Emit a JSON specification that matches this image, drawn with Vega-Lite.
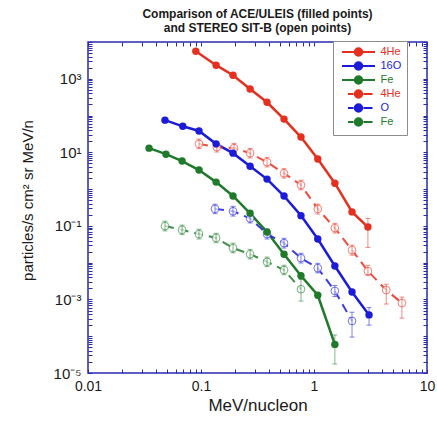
{
  "$schema": "https://vega.github.io/schema/vega-lite/v6.json",
  "width": 339,
  "height": 331,
  "autosize": "none",
  "padding": {"left": 88, "top": 42, "right": 10, "bottom": 49},
  "config": {
    "font": "Liberation Sans",
    "view": {"stroke": "#2b2bb0", "strokeWidth": 1.5},
    "axis": {"grid": false, "domain": false}
  },
  "title": {
    "text": ["Comparison of ACE/ULEIS (filled points)", "and STEREO SIT-B (open points)"],
    "fontSize": 12, "font": "Liberation Sans", "fontWeight": "bold", "color": "#1a1a1a",
    "offset": 0, "lineHeight": 14, "anchor": "middle"
  },
  "datasets": {
    "pts": [
      {"s": "ACE 4He", "g": "ACE", "x": 0.09, "y": 5600},
      {"s": "ACE 4He", "g": "ACE", "x": 0.136, "y": 2340},
      {"s": "ACE 4He", "g": "ACE", "x": 0.192, "y": 1250},
      {"s": "ACE 4He", "g": "ACE", "x": 0.272, "y": 525},
      {"s": "ACE 4He", "g": "ACE", "x": 0.384, "y": 230},
      {"s": "ACE 4He", "g": "ACE", "x": 0.543, "y": 80},
      {"s": "ACE 4He", "g": "ACE", "x": 0.767, "y": 26},
      {"s": "ACE 4He", "g": "ACE", "x": 1.08, "y": 6.6},
      {"s": "ACE 4He", "g": "ACE", "x": 1.53, "y": 1.45},
      {"s": "ACE 4He", "g": "ACE", "x": 2.17, "y": 0.24},
      {"s": "ACE 4He", "g": "ACE", "x": 3.0, "y": 0.093, "lo": 0.026, "hi": 0.16},
      {"s": "ACE 16O", "g": "ACE", "x": 0.048, "y": 75},
      {"s": "ACE 16O", "g": "ACE", "x": 0.069, "y": 51},
      {"s": "ACE 16O", "g": "ACE", "x": 0.096, "y": 38},
      {"s": "ACE 16O", "g": "ACE", "x": 0.136, "y": 17},
      {"s": "ACE 16O", "g": "ACE", "x": 0.192, "y": 9.5},
      {"s": "ACE 16O", "g": "ACE", "x": 0.272, "y": 4.2},
      {"s": "ACE 16O", "g": "ACE", "x": 0.384, "y": 1.87},
      {"s": "ACE 16O", "g": "ACE", "x": 0.543, "y": 0.65},
      {"s": "ACE 16O", "g": "ACE", "x": 0.767, "y": 0.19},
      {"s": "ACE 16O", "g": "ACE", "x": 1.08, "y": 0.044},
      {"s": "ACE 16O", "g": "ACE", "x": 1.53, "y": 0.0081},
      {"s": "ACE 16O", "g": "ACE", "x": 2.17, "y": 0.0016},
      {"s": "ACE 16O", "g": "ACE", "x": 3.07, "y": 0.00038, "lo": 0.0002, "hi": 0.0006},
      {"s": "ACE Fe", "g": "ACE", "x": 0.0347, "y": 13},
      {"s": "ACE Fe", "g": "ACE", "x": 0.049, "y": 8.9},
      {"s": "ACE Fe", "g": "ACE", "x": 0.068, "y": 5.8},
      {"s": "ACE Fe", "g": "ACE", "x": 0.096, "y": 3.3},
      {"s": "ACE Fe", "g": "ACE", "x": 0.136, "y": 1.55},
      {"s": "ACE Fe", "g": "ACE", "x": 0.192, "y": 0.65},
      {"s": "ACE Fe", "g": "ACE", "x": 0.272, "y": 0.22},
      {"s": "ACE Fe", "g": "ACE", "x": 0.384, "y": 0.068},
      {"s": "ACE Fe", "g": "ACE", "x": 0.543, "y": 0.017},
      {"s": "ACE Fe", "g": "ACE", "x": 0.767, "y": 0.0044},
      {"s": "ACE Fe", "g": "ACE", "x": 1.08, "y": 0.0013},
      {"s": "ACE Fe", "g": "ACE", "x": 1.53, "y": 0.00006, "lo": 0.0000176, "hi": 0.000108},
      {"s": "SIT 4He", "g": "SIT", "x": 0.096, "y": 17, "lo": 12.6, "hi": 23},
      {"s": "SIT 4He", "g": "SIT", "x": 0.138, "y": 13.8, "lo": 10.2, "hi": 18.6},
      {"s": "SIT 4He", "g": "SIT", "x": 0.196, "y": 13, "lo": 9.6, "hi": 17.5},
      {"s": "SIT 4He", "g": "SIT", "x": 0.272, "y": 9.5, "lo": 7.0, "hi": 12.8},
      {"s": "SIT 4He", "g": "SIT", "x": 0.384, "y": 5.4, "lo": 4.0, "hi": 7.3},
      {"s": "SIT 4He", "g": "SIT", "x": 0.543, "y": 2.7, "lo": 2.0, "hi": 3.6},
      {"s": "SIT 4He", "g": "SIT", "x": 0.767, "y": 1.29, "lo": 0.96, "hi": 1.74},
      {"s": "SIT 4He", "g": "SIT", "x": 1.08, "y": 0.29, "lo": 0.21, "hi": 0.39},
      {"s": "SIT 4He", "g": "SIT", "x": 1.53, "y": 0.087, "lo": 0.064, "hi": 0.117},
      {"s": "SIT 4He", "g": "SIT", "x": 2.17, "y": 0.022, "lo": 0.016, "hi": 0.03},
      {"s": "SIT 4He", "g": "SIT", "x": 3.0, "y": 0.0059, "lo": 0.0045, "hi": 0.0085},
      {"s": "SIT 4He", "g": "SIT", "x": 4.36, "y": 0.0018, "lo": 0.00075, "hi": 0.0026},
      {"s": "SIT 4He", "g": "SIT", "x": 6.0, "y": 0.0008, "lo": 0.00031, "hi": 0.00116},
      {"s": "SIT O", "g": "SIT", "x": 0.133, "y": 0.29, "lo": 0.215, "hi": 0.39},
      {"s": "SIT O", "g": "SIT", "x": 0.192, "y": 0.25, "lo": 0.185, "hi": 0.34},
      {"s": "SIT O", "g": "SIT", "x": 0.272, "y": 0.16, "lo": 0.12, "hi": 0.22},
      {"s": "SIT O", "g": "SIT", "x": 0.384, "y": 0.06, "lo": 0.044, "hi": 0.081},
      {"s": "SIT O", "g": "SIT", "x": 0.543, "y": 0.034, "lo": 0.025, "hi": 0.046},
      {"s": "SIT O", "g": "SIT", "x": 0.767, "y": 0.0133, "lo": 0.0098, "hi": 0.018},
      {"s": "SIT O", "g": "SIT", "x": 1.08, "y": 0.0071, "lo": 0.0053, "hi": 0.0096},
      {"s": "SIT O", "g": "SIT", "x": 1.53, "y": 0.0017, "lo": 0.0012, "hi": 0.0024},
      {"s": "SIT O", "g": "SIT", "x": 2.17, "y": 0.00026, "lo": 0.000095, "hi": 0.00045},
      {"s": "SIT Fe", "g": "SIT", "x": 0.048, "y": 0.099, "lo": 0.073, "hi": 0.134},
      {"s": "SIT Fe", "g": "SIT", "x": 0.068, "y": 0.078, "lo": 0.058, "hi": 0.105},
      {"s": "SIT Fe", "g": "SIT", "x": 0.096, "y": 0.06, "lo": 0.044, "hi": 0.081},
      {"s": "SIT Fe", "g": "SIT", "x": 0.136, "y": 0.047, "lo": 0.035, "hi": 0.063},
      {"s": "SIT Fe", "g": "SIT", "x": 0.192, "y": 0.025, "lo": 0.0185, "hi": 0.034},
      {"s": "SIT Fe", "g": "SIT", "x": 0.272, "y": 0.017, "lo": 0.0126, "hi": 0.023},
      {"s": "SIT Fe", "g": "SIT", "x": 0.384, "y": 0.0105, "lo": 0.0078, "hi": 0.0142},
      {"s": "SIT Fe", "g": "SIT", "x": 0.543, "y": 0.0063, "lo": 0.0047, "hi": 0.0085},
      {"s": "SIT Fe", "g": "SIT", "x": 0.767, "y": 0.0019, "lo": 0.0009, "hi": 0.0035}
    ]
  },
  "data": {"name": "pts"},
  "resolve": {"axis": {"x": "independent", "y": "independent"}},
  "layer": [
    {
      "encoding": {
        "x": {"field": "x", "type": "quantitative", "scale": {"type": "log", "domain": [0.01, 10], "nice": false},
          "axis": {"orient": "bottom", "values": [0.01, 0.02, 0.03, 0.04, 0.05, 0.06, 0.07, 0.08, 0.09, 0.1, 0.2, 0.3, 0.4, 0.5, 0.6, 0.7, 0.8, 0.9, 1, 2, 3, 4, 5, 6, 7, 8, 9, 10],
            "labelExpr": "datum.value == 0.01 ? '0.01' : datum.value == 0.1 ? '0.1' : datum.value == 1 ? '1' : datum.value == 10 ? '10' : ''",
            "ticks": true, "tickSize": -4, "tickColor": "#2b2bb0", "tickWidth": 1,
            "encode": {"ticks": {"update": {"y2": {"signal": "(datum.value == 0.01 || datum.value == 0.1 || datum.value == 1 || datum.value == 10) ? -8 : -4"}}}},
            "labelFontSize": 14, "labelColor": "#1a1a1a", "labelPadding": 10, "labelFlush": false, "labelOverlap": false,
            "title": "MeV/nucleon", "titleFontSize": 17, "titleFontWeight": "normal", "titleColor": "#1a1a1a", "titlePadding": 4}},
        "y": {"field": "y", "type": "quantitative", "scale": {"type": "log", "domain": [0.00001, 10000], "nice": false},
          "axis": {"orient": "left", "values": [0.00001, 2e-5, 3e-5, 4e-5, 5e-5, 6e-5, 7e-5, 8e-5, 9e-5, 0.0001, 2e-4, 3e-4, 4e-4, 5e-4, 6e-4, 7e-4, 8e-4, 9e-4, 0.001, 0.002, 0.003, 0.004, 0.005, 0.006, 0.007, 0.008, 0.009, 0.01, 0.02, 0.03, 0.04, 0.05, 0.06, 0.07, 0.08, 0.09, 0.1, 0.2, 0.3, 0.4, 0.5, 0.6, 0.7, 0.8, 0.9, 1, 2, 3, 4, 5, 6, 7, 8, 9, 10, 20, 30, 40, 50, 60, 70, 80, 90, 100, 200, 300, 400, 500, 600, 700, 800, 900, 1000, 2000, 3000, 4000, 5000, 6000, 7000, 8000, 9000, 10000],
            "labelExpr": "datum.value == 0.00001 ? '10⁻⁵' : datum.value == 0.001 ? '10⁻³' : datum.value == 0.1 ? '10⁻¹' : datum.value == 10 ? '10¹' : datum.value == 1000 ? '10³' : ''",
            "ticks": true, "tickSize": -4, "tickColor": "#2b2bb0", "tickWidth": 1,
            "encode": {"ticks": {"update": {"x2": {"signal": "abs(log(datum.value) / LN10 - round(log(datum.value) / LN10)) < 0.001 ? 8 : 4"}}}},
            "labelFontSize": 15, "labelColor": "#1a1a1a", "labelPadding": 11, "labelFlush": false, "labelOverlap": false,
            "title": "particles/s cm² sr MeV/n", "titleFontSize": 15, "titleFontWeight": "normal", "titleColor": "#1a1a1a", "titlePadding": 18, "titleY": 158}},
        "color": {"field": "s", "type": "nominal",
          "scale": {"domain": ["ACE 4He", "ACE 16O", "ACE Fe", "SIT 4He", "SIT O", "SIT Fe"], "range": ["#e5301f", "#1c1cd8", "#1f7a2b", "#e5301f", "#1c1cd8", "#1f7a2b"]},
          "legend": {
            "orient": "none", "legendX": 245, "legendY": -1, "title": null, "padding": 5,
            "strokeColor": "#8c8c8c", "fillColor": "white",
            "symbolSize": 100, "symbolStrokeWidth": 2, "symbolOffset": 14.5, "labelOffset": 16,
            "labelFontSize": 11, "labelFont": "Liberation Sans", "rowPadding": -6,
            "labelExpr": "split(datum.label, ' ')[1] + '\u00a0\u00a0\u00a0\u00a0'",
            "encode": {
              "symbols": {"update": {
                "shape": {"signal": "indexof(datum.value, 'ACE') == 0 ? 'M -3.3 0 L 3.3 0 M 0.75 0 A 0.75 0.75 0 1 1 -0.75 0 A 0.75 0.75 0 1 1 0.75 0 Z' : 'M -2.1 0 L -1 0 M 1 0 L 2.8 0 M 0.75 0 A 0.75 0.75 0 1 1 -0.75 0 A 0.75 0.75 0 1 1 0.75 0 Z'"},
                "size": {"value": 100},
                "fill": {"signal": "indexof(datum.value, 'ACE') == 0 ? scale('color', datum.value) : 'white'"},
                "stroke": {"scale": "color", "field": "value"},
                "strokeWidth": {"value": 2},
                "opacity": {"value": 1}, "fillOpacity": {"value": 1}, "strokeOpacity": {"value": 1}
              }},
              "labels": {"update": {"fill": {"scale": "color", "field": "value"}}}
            }
          }}
      },
      "layer": [
        {"transform": [{"filter": "datum.g == 'ACE'"}], "mark": {"type": "line", "strokeWidth": 2.5}},
        {"transform": [{"filter": "datum.g == 'SIT'"}], "mark": {"type": "line", "strokeWidth": 2, "strokeDash": [9, 6], "opacity": 0.85}},
        {"transform": [{"filter": "datum.g == 'SIT'"}], "mark": {"type": "point", "shape": "circle", "filled": false, "fill": "white", "fillOpacity": 0.7, "size": 60, "strokeWidth": 1, "strokeOpacity": 0.6}},
        {"transform": [{"filter": "isValid(datum.lo)"}], "mark": {"type": "rule", "strokeWidth": 1, "opacity": 0.55},
          "encoding": {"y": {"field": "lo", "type": "quantitative", "scale": {"type": "log", "domain": [0.00001, 10000], "nice": false}}, "y2": {"field": "hi"}}},
        {"transform": [{"filter": "isValid(datum.lo)"}], "mark": {"type": "tick", "orient": "horizontal", "size": 5, "thickness": 1, "opacity": 0.55},
          "encoding": {"y": {"field": "lo", "type": "quantitative", "scale": {"type": "log", "domain": [0.00001, 10000], "nice": false}}}},
        {"transform": [{"filter": "isValid(datum.hi)"}], "mark": {"type": "tick", "orient": "horizontal", "size": 5, "thickness": 1, "opacity": 0.55},
          "encoding": {"y": {"field": "hi", "type": "quantitative", "scale": {"type": "log", "domain": [0.00001, 10000], "nice": false}}}},
        {"transform": [{"filter": "datum.g == 'ACE'"}], "mark": {"type": "point", "shape": "circle", "filled": true, "size": 55, "opacity": 1}}
      ]
    },
    {
      "mark": {"type": "point", "opacity": 0},
      "encoding": {
        "x": {"field": "x", "type": "quantitative", "scale": {"type": "log", "domain": [0.01, 10], "nice": false},
          "axis": {"orient": "top", "values": [0.01, 0.02, 0.03, 0.04, 0.05, 0.06, 0.07, 0.08, 0.09, 0.1, 0.2, 0.3, 0.4, 0.5, 0.6, 0.7, 0.8, 0.9, 1, 2, 3, 4, 5, 6, 7, 8, 9, 10],
            "labels": false, "ticks": true, "tickSize": -4, "tickColor": "#2b2bb0", "tickWidth": 1, "title": null,
            "encode": {"ticks": {"update": {"y2": {"signal": "(datum.value == 0.01 || datum.value == 0.1 || datum.value == 1 || datum.value == 10) ? 8 : 4"}}}}}},
        "y": {"field": "y", "type": "quantitative", "scale": {"type": "log", "domain": [0.00001, 10000], "nice": false},
          "axis": {"orient": "right", "values": [0.00001, 2e-5, 3e-5, 4e-5, 5e-5, 6e-5, 7e-5, 8e-5, 9e-5, 0.0001, 2e-4, 3e-4, 4e-4, 5e-4, 6e-4, 7e-4, 8e-4, 9e-4, 0.001, 0.002, 0.003, 0.004, 0.005, 0.006, 0.007, 0.008, 0.009, 0.01, 0.02, 0.03, 0.04, 0.05, 0.06, 0.07, 0.08, 0.09, 0.1, 0.2, 0.3, 0.4, 0.5, 0.6, 0.7, 0.8, 0.9, 1, 2, 3, 4, 5, 6, 7, 8, 9, 10, 20, 30, 40, 50, 60, 70, 80, 90, 100, 200, 300, 400, 500, 600, 700, 800, 900, 1000, 2000, 3000, 4000, 5000, 6000, 7000, 8000, 9000, 10000],
            "labels": false, "ticks": true, "tickSize": -4, "tickColor": "#2b2bb0", "tickWidth": 1, "title": null,
            "encode": {"ticks": {"update": {"x2": {"signal": "abs(log(datum.value) / LN10 - round(log(datum.value) / LN10)) < 0.001 ? -8 : -4"}}}}}}
      }
    }
  ]
}
